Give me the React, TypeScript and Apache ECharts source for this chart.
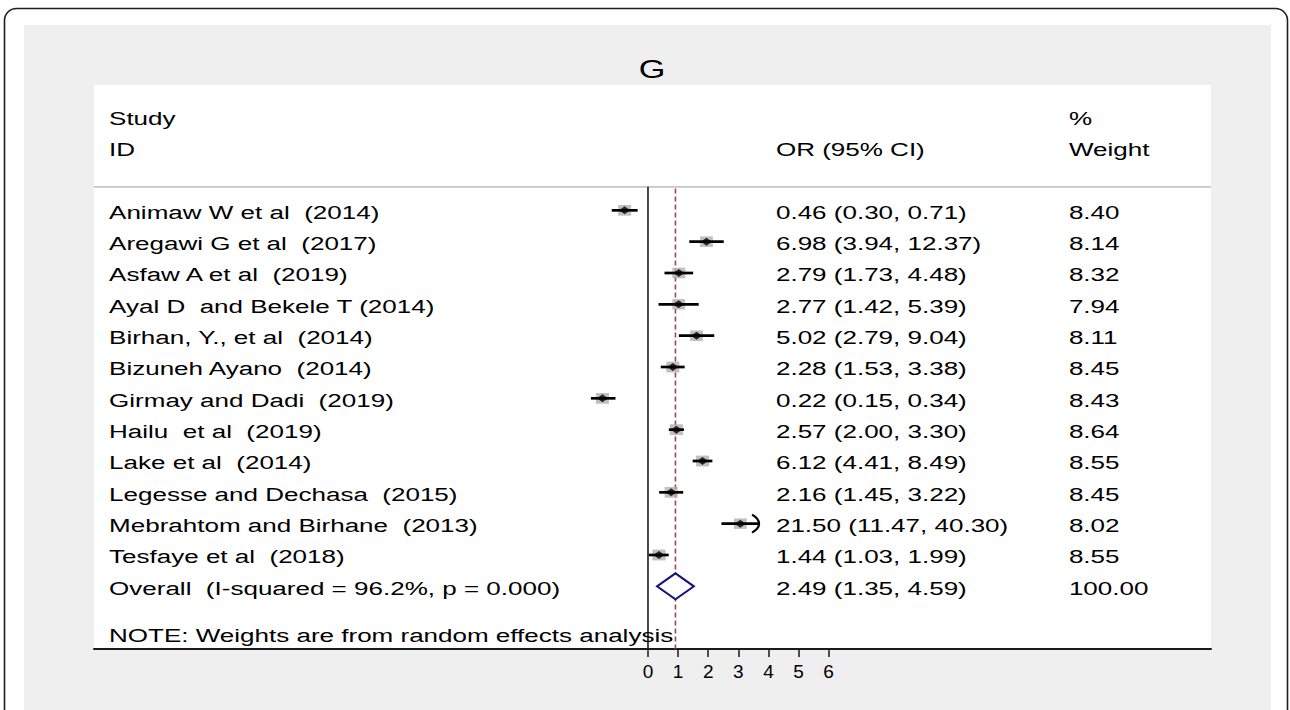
import React, { useEffect, useRef } from 'react';
import * as echarts from 'echarts';

// Study-level odds ratios with 95% CI and random-effects weights
const studies = [
  'Animaw W et al  (2014)',
  'Aregawi G et al  (2017)',
  'Asfaw A et al  (2019)',
  'Ayal D  and Bekele T (2014)',
  'Birhan, Y., et al  (2014)',
  'Bizuneh Ayano  (2014)',
  'Girmay and Dadi  (2019)',
  'Hailu  et al  (2019)',
  'Lake et al  (2014)',
  'Legesse and Dechasa  (2015)',
  'Mebrahtom and Birhane  (2013)',
  'Tesfaye et al  (2018)',
];
const oddsRatio = [0.46, 6.98, 2.79, 2.77, 5.02, 2.28, 0.22, 2.57, 6.12, 2.16, 21.5, 1.44];
const ciLower = [0.3, 3.94, 1.73, 1.42, 2.79, 1.53, 0.15, 2.0, 4.41, 1.45, 11.47, 1.03];
const ciUpper = [0.71, 12.37, 4.48, 5.39, 9.04, 3.38, 0.34, 3.3, 8.49, 3.22, 40.3, 1.99];
const weightPct = [8.4, 8.14, 8.32, 7.94, 8.11, 8.45, 8.43, 8.64, 8.55, 8.45, 8.02, 8.55];

const overallLabel = 'Overall  (I-squared = 96.2%, p = 0.000)';
const overallOR = 2.49;
const overallLower = 1.35;
const overallUpper = 4.59;
const overallWeight = 100.0;
const noteText = 'NOTE: Weights are from random effects analysis';

const headerTop = ['Study', '', '%'];
const headerBottom = ['ID', 'OR (95% CI)', 'Weight'];
const xTicks = [0, 1, 2, 3, 4, 5, 6];

// Axis frame: x is log(OR), y is the row index (headers above 0, note below the pooled row)
const X_MIN = -18.4;
const X_MAX = 18.7;
const Y_MIN = -4;
const Y_MAX = 14;
const COLS = [-17.9, 4.25, 13.98];
const X_CLIP = 3.69;
const RULE_ROW = -0.75;
const FONT = '"Liberation Sans", Arial, Helvetica, sans-serif';
const TEXT_SCALE = 1.37;

const fmt = (v: number) => v.toFixed(2);
const ciText = (e: number, lo: number, hi: number) => `${fmt(e)} (${fmt(lo)}, ${fmt(hi)})`;

type Cell = { x: number; y: number; text: string };

function buildCells(): Cell[] {
  const cells: Cell[] = [];
  headerTop.forEach((t, k) => t && cells.push({ x: COLS[k], y: -3, text: t }));
  headerBottom.forEach((t, k) => t && cells.push({ x: COLS[k], y: -2, text: t }));
  studies.forEach((name, i) => {
    cells.push({ x: COLS[0], y: i, text: name });
    cells.push({ x: COLS[1], y: i, text: ciText(oddsRatio[i], ciLower[i], ciUpper[i]) });
    cells.push({ x: COLS[2], y: i, text: fmt(weightPct[i]) });
  });
  const pooledRow = studies.length;
  cells.push({ x: COLS[0], y: pooledRow, text: overallLabel });
  cells.push({ x: COLS[1], y: pooledRow, text: ciText(overallOR, overallLower, overallUpper) });
  cells.push({ x: COLS[2], y: pooledRow, text: fmt(overallWeight) });
  cells.push({ x: COLS[0], y: pooledRow + 1.5, text: noteText });
  return cells;
}

export default function App() {
  const ref = useRef<HTMLDivElement>(null);

  useEffect(() => {
    if (!ref.current) return;
    const chart = echarts.init(ref.current, undefined, { renderer: 'svg' });
    const cells = buildCells();
    const pooledRow = studies.length;

    const option: any = {
      animation: false,
      backgroundColor: '#ffffff',
      graphic: {
        elements: [
          {
            type: 'rect',
            z: -30,
            shape: { x: 4.5, y: 8.5, width: 1283, height: 760, r: 12 },
            style: { fill: '#ffffff', stroke: '#1e1e1e', lineWidth: 1.6 },
          },
          {
            type: 'rect',
            z: -20,
            shape: { x: 24, y: 25, width: 1247, height: 740 },
            style: { fill: '#efefef' },
          },
          {
            type: 'rect',
            z: -10,
            shape: { x: 94, y: 85, width: 1117, height: 564 },
            style: { fill: '#ffffff' },
          },
          {
            type: 'text',
            z: 10,
            x: 652,
            y: 69,
            scaleX: TEXT_SCALE,
            style: {
              text: 'G',
              fontSize: 25,
              fontFamily: FONT,
              fill: '#000',
              align: 'center',
              verticalAlign: 'middle',
            },
          },
        ],
      },
      grid: { left: 94, right: 79, top: 85, bottom: 61 },
      xAxis: {
        type: 'value',
        min: X_MIN,
        max: X_MAX,
        axisLine: { show: true, onZero: false, lineStyle: { color: '#1a1a1a', width: 2 } },
        axisTick: { show: true, customValues: xTicks, length: 8, lineStyle: { color: '#1a1a1a', width: 1.5 } },
        axisLabel: { show: true, customValues: xTicks, margin: 13, fontSize: 19, fontFamily: FONT, color: '#000' },
        splitLine: { show: false },
      },
      yAxis: { type: 'value', min: Y_MIN, max: Y_MAX, inverse: true, show: false },
      series: [
        // header rule, null line and pooled-estimate line
        {
          type: 'custom',
          silent: true,
          z: 1,
          data: [[0, 0]],
          renderItem: (_p: any, api: any) => {
            const a = api.coord([X_MIN, RULE_ROW]);
            const b = api.coord([X_MAX, RULE_ROW]);
            const n0 = api.coord([0, RULE_ROW]);
            const n1 = api.coord([0, Y_MAX]);
            const lx = Math.log(overallOR);
            const d0 = api.coord([lx, RULE_ROW + 0.05]);
            const d1 = api.coord([lx, Y_MAX]);
            return {
              type: 'group',
              children: [
                { type: 'line', shape: { x1: a[0], y1: a[1], x2: b[0], y2: b[1] }, style: { stroke: '#c6c6c6', lineWidth: 1.6 } },
                { type: 'line', shape: { x1: n0[0], y1: n0[1], x2: n1[0], y2: n1[1] }, style: { stroke: '#1a1a1a', lineWidth: 1.6 } },
                {
                  type: 'line',
                  shape: { x1: d0[0], y1: d0[1], x2: d1[0], y2: d1[1] },
                  style: { stroke: '#a3454c', lineWidth: 1.6, lineDash: [5, 3] },
                },
              ],
            };
          },
        },
        // weight boxes
        {
          type: 'scatter',
          silent: true,
          z: 2,
          symbol: 'rect',
          data: oddsRatio.map((v, i) => [Math.log(v), i, weightPct[i]]),
          symbolSize: (val: number[]) => [Math.sqrt(val[2]) * 4.5, Math.sqrt(val[2]) * 3.7],
          itemStyle: { color: '#b0b0b0' },
        },
        // confidence intervals
        {
          type: 'custom',
          silent: true,
          z: 3,
          data: studies.map((_, i) => [Math.log(ciLower[i]), i, Math.log(ciUpper[i])]),
          renderItem: (_p: any, api: any) => {
            const lo = api.value(0);
            const row = api.value(1);
            const hi = api.value(2);
            const clipped = hi > X_CLIP;
            const p0 = api.coord([lo, row]);
            const p1 = api.coord([clipped ? X_CLIP : hi, row]);
            const children: any[] = [
              { type: 'line', shape: { x1: p0[0], y1: p0[1], x2: p1[0], y2: p1[1] }, style: { stroke: '#000', lineWidth: 2.7 } },
            ];
            if (clipped) {
              const x = p1[0];
              const y = p1[1];
              children.push({
                type: 'polyline',
                shape: {
                  points: [
                    [x - 7, y - 9],
                    [x - 2, y - 5],
                    [x, y],
                    [x - 2, y + 5],
                    [x - 7, y + 9],
                  ],
                  smooth: 0.4,
                },
                style: { stroke: '#000', lineWidth: 2.2, fill: 'none' },
              });
            }
            return { type: 'group', children };
          },
        },
        // point estimates
        {
          type: 'scatter',
          silent: true,
          z: 4,
          symbol: 'diamond',
          symbolSize: [11, 8],
          data: oddsRatio.map((v, i) => [Math.log(v), i]),
          itemStyle: { color: '#000' },
        },
        // pooled estimate diamond
        {
          type: 'custom',
          silent: true,
          z: 4,
          data: [[Math.log(overallLower), pooledRow, Math.log(overallOR), Math.log(overallUpper)]],
          renderItem: (_p: any, api: any) => {
            const l = api.coord([api.value(0), api.value(1)]);
            const c = api.coord([api.value(2), api.value(1)]);
            const r = api.coord([api.value(3), api.value(1)]);
            const h = 13;
            return {
              type: 'polygon',
              shape: { points: [[l[0], l[1]], [c[0], c[1] - h], [r[0], r[1]], [c[0], c[1] + h]] },
              style: { stroke: '#14147a', lineWidth: 2, fill: '#ffffff' },
            };
          },
        },
        // table text
        {
          type: 'custom',
          silent: true,
          z: 5,
          data: cells.map((c) => [c.x, c.y]),
          renderItem: (params: any, api: any) => {
            const p = api.coord([api.value(0), api.value(1)]);
            return {
              type: 'text',
              x: p[0],
              y: p[1] + 1.5,
              scaleX: TEXT_SCALE,
              style: {
                text: cells[params.dataIndex].text,
                fontSize: 19,
                fontFamily: FONT,
                fill: '#000',
                align: 'left',
                verticalAlign: 'middle',
              },
            };
          },
        },
      ],
    };

    chart.setOption(option);
    return () => chart.dispose();
  }, []);

  return (
    <div
      ref={ref}
      style={{ position: 'absolute', left: 0, top: 0, width: 1290, height: 710 }}
    />
  );
}
